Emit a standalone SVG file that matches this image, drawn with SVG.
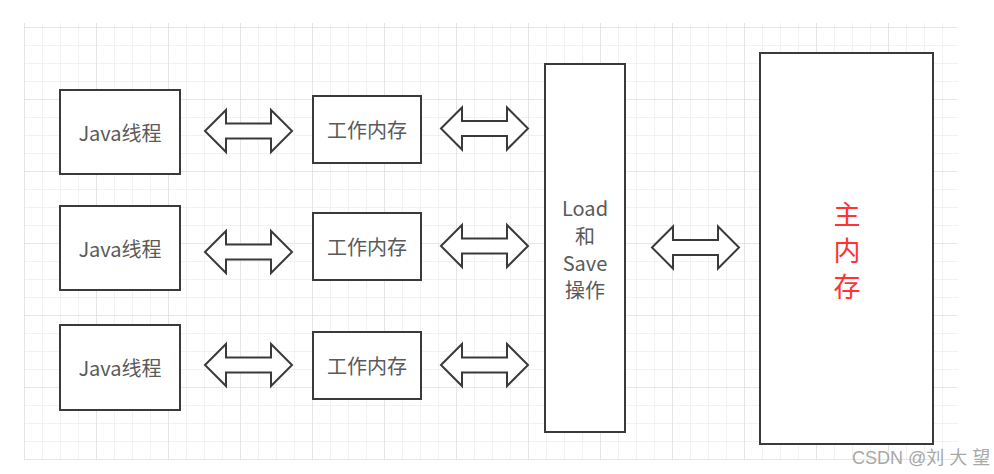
<svg xmlns="http://www.w3.org/2000/svg" width="994" height="474" viewBox="0 0 994 474">
  <defs>
    <pattern id="minor" x="24" y="27" width="18" height="18" patternUnits="userSpaceOnUse">
      <path d="M0 0 V18 M0 0 H18" fill="none" stroke="#e6e6e6" stroke-width="1"/>
    </pattern>
    <pattern id="major" x="24" y="27" width="72" height="72" patternUnits="userSpaceOnUse">
      <path d="M0 0 V72 M0 0 H72" fill="none" stroke="#dcdcdc" stroke-width="1.2"/>
    </pattern>
    <path id="dbl" d="M0 0 L21 -21 L21 -7.5 L66 -7.5 L66 -21 L87 0 L66 21 L66 7.5 L21 7.5 L21 21 Z"/>
  </defs>
  <style>
    .box { fill: #ffffff; stroke: #3a3a3a; stroke-width: 2; }
    .arr { fill: #ffffff; stroke: #3a3a3a; stroke-width: 2; stroke-linejoin: miter; }
    .lbl { font-family: "Noto Sans CJK SC", "Noto Sans", sans-serif; font-size: 20px; fill: #5a5a5a; text-anchor: middle; dominant-baseline: central; }
    .main { font-family: "Noto Sans CJK SC", sans-serif; font-size: 27px; fill: #ff3333; text-anchor: middle; dominant-baseline: central; }
    .wm { font-family: "Liberation Sans", "Noto Sans CJK SC", sans-serif; font-size: 18px; fill: #a8a8a8; }
  </style>
  <rect width="994" height="474" fill="#ffffff"/>
  <rect x="24" y="23" width="934" height="437" fill="url(#minor)"/>
  <rect x="24" y="23" width="934" height="437" fill="url(#major)"/>

  <g id="connectors">
    <use href="#dbl" class="arr" transform="translate(205,131)"/>
    <use href="#dbl" class="arr" transform="translate(205,252)"/>
    <use href="#dbl" class="arr" transform="translate(205,365)"/>
    <use href="#dbl" class="arr" transform="translate(441,128.5)"/>
    <use href="#dbl" class="arr" transform="translate(441,246)"/>
    <use href="#dbl" class="arr" transform="translate(441,365)"/>
    <use href="#dbl" class="arr" transform="translate(652,247.5)"/>
  </g>

  <g id="java1"><rect class="box" x="60" y="90" width="120" height="84"/><text class="lbl" x="120" y="132">Java线程</text></g>
  <g id="java2"><rect class="box" x="60" y="206" width="120" height="84"/><text class="lbl" x="120" y="248">Java线程</text></g>
  <g id="java3"><rect class="box" x="60" y="325" width="120" height="85"/><text class="lbl" x="120" y="367">Java线程</text></g>

  <g id="work1"><rect class="box" x="313" y="96" width="108" height="67"/><text class="lbl" x="367" y="129.5">工作内存</text></g>
  <g id="work2"><rect class="box" x="313" y="213" width="108" height="67"/><text class="lbl" x="367" y="246.5">工作内存</text></g>
  <g id="work3"><rect class="box" x="313" y="332" width="108" height="67"/><text class="lbl" x="367" y="365.5">工作内存</text></g>

  <g id="loadsave">
    <rect class="box" x="545" y="64" width="80" height="368"/>
    <text class="lbl" x="585" y="207">Load</text>
    <text class="lbl" x="585" y="235">和</text>
    <text class="lbl" x="585" y="262">Save</text>
    <text class="lbl" x="585" y="289">操作</text>
  </g>

  <g id="mainmem">
    <rect class="box" x="760" y="53" width="173" height="391"/>
    <text class="main" x="847" y="213">主</text>
    <text class="main" x="847" y="249">内</text>
    <text class="main" x="847" y="285">存</text>
  </g>

  <text class="wm" x="852" y="464" xml:space="preserve">CSDN @刘 大 望</text>
</svg>
